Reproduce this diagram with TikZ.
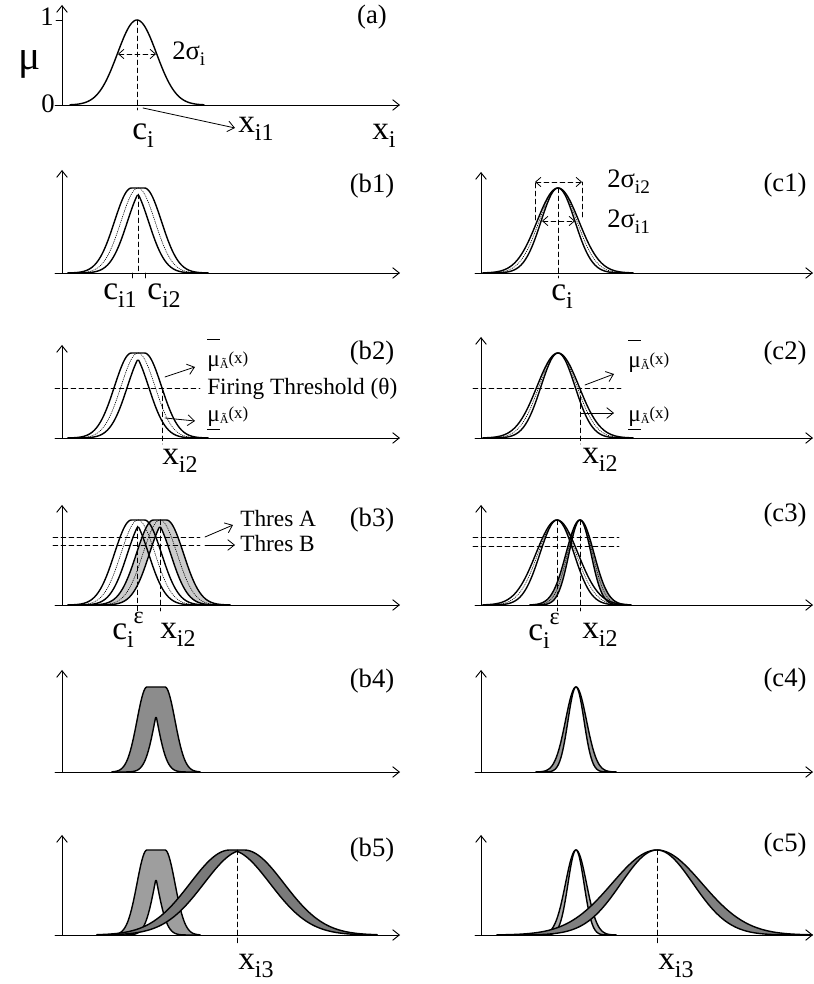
\documentclass[tikz,border=0pt]{standalone}
\usepackage{fontspec}
\setmainfont{Liberation Serif}
\usepackage{graphicx}
\usetikzlibrary{arrows.meta}
\newcommand\lowr[1]{\raisebox{-0.5ex}{\scalebox{0.72}{#1}}}
\newcommand\eps{\raisebox{1.1ex}{\scalebox{0.72}{ε}}}
\newcommand\mubar{\rlap{\raisebox{1.15em}{\rule{0.55em}{0.05em}}}μ}
\newcommand\mfarg{\raisebox{-0.15ex}{\scalebox{0.52}{Ã}}\raisebox{0.3ex}{\scalebox{0.72}{(x)}}}

\begin{document}
\begin{tikzpicture}[x=0.75pt,y=0.75pt,line cap=round,line join=round,
  declare function={gs(\xv,\cm,\sg)=exp(-0.5*((\xv-\cm)/\sg)^2);
    gu(\xv,\ca,\cb,\sg)=exp(-0.5*(max(0,\ca-\xv,\xv-\cb)/\sg)^2);
    gl(\xv,\ca,\cb,\sg)=exp(-0.5*(max(\cb-\xv,\xv-\ca)/\sg)^2);},
  axis/.style={line width=0.7pt,-{Straight Barb[length=5pt,width=8pt]}},
  mf/.style={line width=1.05pt},
  midmf/.style={line width=0.5pt,densely dotted},
  guide/.style={line width=0.6pt,dash pattern=on 3.6pt off 2.4pt},
  span/.style={guide,{Straight Barb[length=4pt,width=7pt]}-{Straight Barb[length=4pt,width=7pt]}},
  pointer/.style={line width=0.6pt,-{Straight Barb[length=5pt,width=8pt]}},
  tag/.style={font=\fontsize{20}{22}\selectfont},
  sig/.style={font=\fontsize{20}{22}\selectfont,inner sep=0pt,anchor=west},
  sym/.style={font=\fontsize{25}{28}\selectfont,inner sep=0pt,anchor=base west},
  note/.style={font=\fontsize{17.5}{19}\selectfont,inner sep=0pt,anchor=base west}]
\useasboundingbox (0,0) rectangle (813,984);
\begin{scope}[shift={(62,879)}]
\draw[axis] (-7,0) -- (338,0);
\draw[axis] (0,0) -- (0,100);
\draw[line width=0.7pt] (-6,85) -- (0,85);
\draw[mf] plot[domain=8:142,samples=90] (\x,{85*gs(\x,75,19.5)});
\draw[guide] (75,85) -- (75,-5);
\draw[span] (56,51) -- (94,51);
\node[font=\fontsize{31}{31}\selectfont] (mu) at (-32,41) {μ};
\node[tag] (one) at (-15,88) {1};
\node[tag] (zero) at (-14,1) {0};
\node[tag] (pa) at (310,88) {(a)};
\node[sig] (sa) at (110,51) {2σ\lowr{i}};
\node[sym] (ca) at (70,-35) {c\lowr{i}};
\node[sym] (xa1) at (176,-28) {x\lowr{i1}};
\node[sym] (xa) at (310,-35) {x\lowr{i}};
\coordinate (pa0) at (81,-3);
\coordinate (pa1) at (173,-23);
\draw[pointer] (pa0) -- (pa1);
\end{scope}
\begin{scope}[shift={(62,711)}]
\draw[axis] (-7,0) -- (338,0);
\draw[axis] (0,0) -- (0,103);
\draw[mf] plot[domain=6:146,samples=100] (\x,{85*gu(\x,69.5,82.5,17)});
\draw[mf] plot[domain=6:146,samples=100] (\x,{85*gl(\x,69.5,82.5,17)});
\draw[midmf] plot[domain=6:146,samples=100] (\x,{85*gs(\x,76,17)});
\draw[guide] (76,{85*gl(76,69.5,82.5,17)}) -- (76,0);
\draw[line width=0.6pt] (70,0) -- (70,-5) (83,0) -- (83,-5);
\node[tag] (pb1) at (310,87) {(b1)};
\node[sym] (cb1) at (41,-27) {c\lowr{i1}};
\node[sym] (cb2) at (85,-27) {c\lowr{i2}};
\end{scope}
\begin{scope}[shift={(481,711)}]
\draw[axis] (-6,0) -- (332,0);
\draw[axis] (0,0) -- (0,101);
\draw[mf] plot[domain=2:152,samples=100] (\x,{85*gs(\x,77,21)});
\draw[mf] plot[domain=2:152,samples=100] (\x,{85*gs(\x,77,17)});
\draw[midmf] plot[domain=2:152,samples=100] (\x,{85*gs(\x,77,19)});
\draw[guide] (77,85) -- (77,-5);
\draw[guide] (54,53) -- (54,91) (101,56) -- (101,91);
\draw[span] (54,91) -- (101,91);
\draw[span] (61,52) -- (94,52);
\node[sig] (sc2) at (126,91) {2σ\lowr{i2}};
\node[sig] (sc1) at (126,51) {2σ\lowr{i1}};
\node[tag] (pc1) at (304,88) {(c1)};
\node[sym] (cc) at (70,-28) {c\lowr{i}};
\end{scope}
\begin{scope}[shift={(62,546)}]
\draw[axis] (-7,0) -- (338,0);
\draw[axis] (0,0) -- (0,93);
\draw[mf] plot[domain=6:146,samples=100] (\x,{85*gu(\x,69.5,82.5,17)});
\draw[mf] plot[domain=6:146,samples=100] (\x,{85*gl(\x,69.5,82.5,17)});
\draw[midmf] plot[domain=6:146,samples=100] (\x,{85*gs(\x,76,17)});
\draw[guide] (-7,50) -- (138,50);
\draw[guide] (100,50) -- (100,-6);
\node[note] (fire) at (145,43) {Firing Threshold (θ)};
\node[note] (mub2) at (145,71) {\mubar\mfarg};
\node[note] (mlb2) at (145,16) {\underline{μ}\mfarg};
\coordinate (ub0) at (103,61);
\coordinate (ub1) at (133,71);
\coordinate (lb0) at (103,20);
\coordinate (lb1) at (133,17);
\draw[pointer] (ub0) -- (ub1);
\draw[pointer] (lb0) -- (lb1);
\node[tag] (pb2) at (310,85) {(b2)};
\node[sym] (xb2) at (100,-27) {x\lowr{i2}};
\end{scope}
\begin{scope}[shift={(481,546)}]
\draw[axis] (-6,0) -- (332,0);
\draw[axis] (0,0) -- (0,101);
\draw[mf] plot[domain=2:152,samples=100] (\x,{85*gs(\x,77,21)});
\draw[mf] plot[domain=2:152,samples=100] (\x,{85*gs(\x,77,17)});
\draw[midmf] plot[domain=2:152,samples=100] (\x,{85*gs(\x,77,19)});
\draw[guide] (-8,50) -- (140,50);
\draw[guide] (99,50) -- (99,-6);
\node[note] (muc2) at (147,70) {\mubar\mfarg};
\node[note] (mlc2) at (147,16) {\underline{μ}\mfarg};
\coordinate (uc0) at (104,53);
\coordinate (uc1) at (133,64);
\coordinate (lc0) at (100,25);
\coordinate (lc1) at (133,25);
\draw[pointer] (uc0) -- (uc1);
\draw[pointer] (lc0) -- (lc1);
\node[tag] (pc2) at (304,85) {(c2)};
\node[sym] (xc2) at (101,-26) {x\lowr{i2}};
\end{scope}
\begin{scope}[shift={(62,379)}]
\draw[axis] (-7,0) -- (338,0);
\draw[axis] (0,0) -- (0,100);
\fill[black!20] plot[domain=28:168,samples=100] (\x,{85*gu(\x,91.5,104.5,17)}) -- plot[domain=168:28,samples=100] (\x,{85*gl(\x,91.5,104.5,17)}) -- cycle;
\draw[mf] plot[domain=6:146,samples=100] (\x,{85*gu(\x,69.5,82.5,17)});
\draw[mf] plot[domain=6:146,samples=100] (\x,{85*gl(\x,69.5,82.5,17)});
\draw[midmf] plot[domain=6:146,samples=100] (\x,{85*gs(\x,76,17)});
\draw[mf] plot[domain=28:168,samples=100] (\x,{85*gu(\x,91.5,104.5,17)});
\draw[mf] plot[domain=28:168,samples=100] (\x,{85*gl(\x,91.5,104.5,17)});
\draw[midmf] plot[domain=28:168,samples=100] (\x,{85*gs(\x,98,17)});
\draw[guide] (-9,68) -- (138,68);
\draw[guide] (-9,60) -- (138,60);
\draw[guide] (75,{85*gl(76,69.5,82.5,17)}) -- (75,-6);
\draw[guide] (98,85) -- (98,-6);
\node[note] (thA) at (178,78) {Thres A};
\node[note] (thB) at (178,53) {Thres B};
\coordinate (ta0) at (143,68);
\coordinate (ta1) at (171,80);
\coordinate (tb0) at (143,60);
\coordinate (tb1) at (173,60);
\draw[pointer] (ta0) -- (ta1);
\draw[pointer] (tb0) -- (tb1);
\node[tag] (pb3) at (310,85) {(b3)};
\node[sym] (cb3) at (50,-35) {c\lowr{i}\eps};
\node[sym] (xb3) at (98,-34) {x\lowr{i2}};
\end{scope}
\begin{scope}[shift={(481,379)}]
\draw[axis] (-6,0) -- (332,0);
\draw[axis] (0,0) -- (0,100);
\fill[black!35] plot[domain=49:149,samples=100] (\x,{85*gs(\x,99,14)}) -- plot[domain=149:49,samples=100] (\x,{85*gs(\x,99,11)}) -- cycle;
\draw[mf] plot[domain=2:150,samples=100] (\x,{85*gs(\x,76,21)});
\draw[mf] plot[domain=2:150,samples=100] (\x,{85*gs(\x,76,17)});
\draw[midmf] plot[domain=2:150,samples=100] (\x,{85*gs(\x,76,19)});
\draw[mf] plot[domain=49:149,samples=100] (\x,{85*gs(\x,99,14)});
\draw[mf] plot[domain=49:149,samples=100] (\x,{85*gs(\x,99,11)});
\draw[midmf] plot[domain=49:149,samples=100] (\x,{85*gs(\x,99,12.5)});
\draw[guide] (-8,68) -- (138,68);
\draw[guide] (-8,59) -- (138,59);
\draw[guide] (76,85) -- (76,-6);
\draw[guide] (99,85) -- (99,-6);
\node[tag] (pc3) at (304,90) {(c3)};
\node[sym] (cc3) at (47,-36) {c\lowr{i}\eps};
\node[sym] (xc3) at (101,-34) {x\lowr{i2}};
\end{scope}
\begin{scope}[shift={(62,212)}]
\draw[axis] (-7,0) -- (338,0);
\draw[axis] (0,0) -- (0,102);
\fill[black!45] plot[domain=50:138,samples=100] (\x,{85*gu(\x,85,103,10)}) -- plot[domain=138:50,samples=100] (\x,{85*gl(\x,85,103,10)}) -- cycle;
\draw[mf] plot[domain=50:138,samples=100] (\x,{85*gu(\x,85,103,10)});
\draw[mf] plot[domain=50:138,samples=100] (\x,{85*gl(\x,85,103,10)});
\node[tag] (pb4) at (310,91) {(b4)};
\end{scope}
\begin{scope}[shift={(481,212)}]
\draw[axis] (-6,0) -- (332,0);
\draw[axis] (0,0) -- (0,102);
\fill[black!40] plot[domain=55:135,samples=100] (\x,{85*gs(\x,95,10.5)}) -- plot[domain=135:55,samples=100] (\x,{85*gs(\x,95,8)}) -- cycle;
\draw[mf] plot[domain=55:135,samples=100] (\x,{85*gs(\x,95,10.5)});
\draw[mf] plot[domain=55:135,samples=100] (\x,{85*gs(\x,95,8)});
\node[tag] (pc4) at (304,92) {(c4)};
\end{scope}
\begin{scope}[shift={(62,49)}]
\draw[axis] (-7,0) -- (338,0);
\draw[axis] (0,0) -- (0,100);
\fill[black!38] plot[domain=50:138,samples=100] (\x,{85*gu(\x,85,103,10)}) -- plot[domain=138:50,samples=100] (\x,{85*gl(\x,85,103,10)}) -- cycle;
\draw[mf] plot[domain=50:138,samples=100] (\x,{85*gu(\x,85,103,10)});
\draw[mf] plot[domain=50:138,samples=100] (\x,{85*gl(\x,85,103,10)});
\fill[black!52] plot[domain=35:315,samples=140] (\x,{85*gu(\x,168,182,40)}) -- plot[domain=315:35,samples=140] (\x,{85*gl(\x,168,182,40)}) -- cycle;
\draw[mf] plot[domain=35:315,samples=140] (\x,{85*gu(\x,168,182,40)});
\draw[mf] plot[domain=35:315,samples=140] (\x,{85*gl(\x,168,182,40)});
\draw[guide] (175,85) -- (175,-10);
\node[tag] (pb5) at (310,85) {(b5)};
\node[sym] (xb5) at (176,-35) {x\lowr{i3}};
\end{scope}
\begin{scope}[shift={(481,49)}]
\draw[axis] (-6,0) -- (332,0);
\draw[axis] (0,0) -- (0,100);
\fill[black!32] plot[domain=55:135,samples=100] (\x,{85*gs(\x,95,10.5)}) -- plot[domain=135:55,samples=100] (\x,{85*gs(\x,95,8)}) -- cycle;
\draw[mf] plot[domain=55:135,samples=100] (\x,{85*gs(\x,95,10.5)});
\draw[mf] plot[domain=55:135,samples=100] (\x,{85*gs(\x,95,8)});
\fill[black!50] plot[domain=16:331,samples=140] (\x,{85*gs(\x,176,45)}) -- plot[domain=331:16,samples=140] (\x,{85*gs(\x,176,36)}) -- cycle;
\draw[mf] plot[domain=16:331,samples=140] (\x,{85*gs(\x,176,45)});
\draw[mf] plot[domain=16:331,samples=140] (\x,{85*gs(\x,176,36)});
\draw[guide] (176,85) -- (176,-10);
\node[tag] (pc5) at (304,90) {(c5)};
\node[sym] (xc5) at (177,-35) {x\lowr{i3}};
\end{scope}
\end{tikzpicture}
\end{document}
